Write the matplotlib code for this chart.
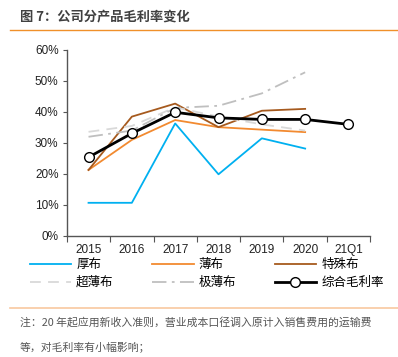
import matplotlib
matplotlib.use('Agg')
import matplotlib.pyplot as plt
from matplotlib.lines import Line2D
import numpy as np

plt.rcParams['font.family'] = ['Liberation Sans', 'Noto Sans CJK SC', 'DejaVu Sans']
plt.rcParams['axes.unicode_minus'] = False

# 数据
categories = ['2015', '2016', '2017', '2018', '2019', '2020', '21Q1']
thick = [10.7, 10.7, 36.3, 19.9, 31.5, 28.2]          # 厚布
thin = [21.3, 31.0, 37.4, 35.1, 34.3, 33.5]           # 薄布
special = [21.3, 38.5, 42.7, 35.1, 40.4, 41.0]        # 特殊布
ultra_thin = [33.6, 35.5, 41.5, 38.5, 36.0, 34.0]     # 超薄布
extreme_thin = [32.0, 34.0, 41.3, 42.0, 46.0, 52.8]   # 极薄布
overall = [25.4, 33.1, 39.9, 38.1, 37.6, 37.6, 36.0]  # 综合毛利率
y_ticks = [0, 10, 20, 30, 40, 50, 60]

fig = plt.figure(figsize=(3.98, 3.57), dpi=100)
ax = fig.add_axes([0.168, 0.339, 0.762, 0.521])

x_all = np.arange(len(categories))
x6 = x_all[:6]

ax.plot(x6, thick, color='#00b0f0', lw=1.3, label='厚布')
ax.plot(x6, thin, color='#f28a30', lw=1.3, label='薄布')
ax.plot(x6, special, color='#a65a1e', lw=1.3, label='特殊布')
ax.plot(x6, ultra_thin, color='#d9d9d9', lw=1.3, ls=(0, (6, 4)), label='超薄布')
ax.plot(x6, extreme_thin, color='#bfbfbf', lw=1.3, ls=(0, (8, 3, 1.5, 3)), label='极薄布')
ax.plot(x_all, overall, color='black', lw=2.0, marker='o', markersize=7,
        markerfacecolor='white', markeredgecolor='black', markeredgewidth=1.0,
        label='综合毛利率', zorder=5)

ax.set_xlim(-0.5, len(categories) - 0.5)
ax.set_ylim(0, 60)
ax.set_yticks(y_ticks)
ax.set_yticklabels([f'{v}%' for v in y_ticks], fontsize=8.5, color='#222222')
ax.set_xticks(np.arange(len(categories) + 1) - 0.5)
ax.set_xticklabels([])
ax.set_xticks(x_all, minor=True)
ax.set_xticklabels(categories, minor=True, fontsize=8.5, color='#222222')
ax.tick_params(axis='x', which='minor', length=0, pad=6)
ax.tick_params(axis='x', which='major', length=4, direction='out', color='#555555')
ax.tick_params(axis='y', length=3, direction='out', color='#555555', pad=3)
for s in ['top', 'right']:
    ax.spines[s].set_visible(False)
for s in ['left', 'bottom']:
    ax.spines[s].set_color('#555555')
    ax.spines[s].set_linewidth(1.0)

# 图例（按行排列）
h, l = ax.get_legend_handles_labels()
order = [0, 3, 1, 4, 2, 5]
fig.legend([h[i] for i in order], [l[i] for i in order], ncol=3,
           loc='upper left', bbox_to_anchor=(0.075, 0.277), frameon=False,
           prop={'family': ['Noto Sans CJK SC'], 'size': 9},
           handlelength=3.3, handletextpad=0.4, columnspacing=3.1,
           labelspacing=0.4, borderpad=0, borderaxespad=0)

# 标题和分隔线
fig.text(0.05, 0.955, '图 7：公司分产品毛利率变化', fontsize=9.5, fontweight='bold',
         color='#404040', va='center', family=['Noto Sans CJK SC'])
fig.add_artist(Line2D([0.025, 1.0], [0.916, 0.916], color='#f0902a', lw=1.0))
fig.add_artist(Line2D([0.025, 1.0], [0.138, 0.138], color='#f8c8a0', lw=1.2))

fig.text(0.05, 0.099, '注：20 年起应用新收入准则，营业成本口径调入原计入销售费用的运输费',
         fontsize=7.8, color='#555555', va='center', family=['Noto Sans CJK SC'])
fig.text(0.05, 0.028, '等，对毛利率有小幅影响；',
         fontsize=7.8, color='#555555', va='center', family=['Noto Sans CJK SC'])

plt.savefig('out.png', dpi=100)
